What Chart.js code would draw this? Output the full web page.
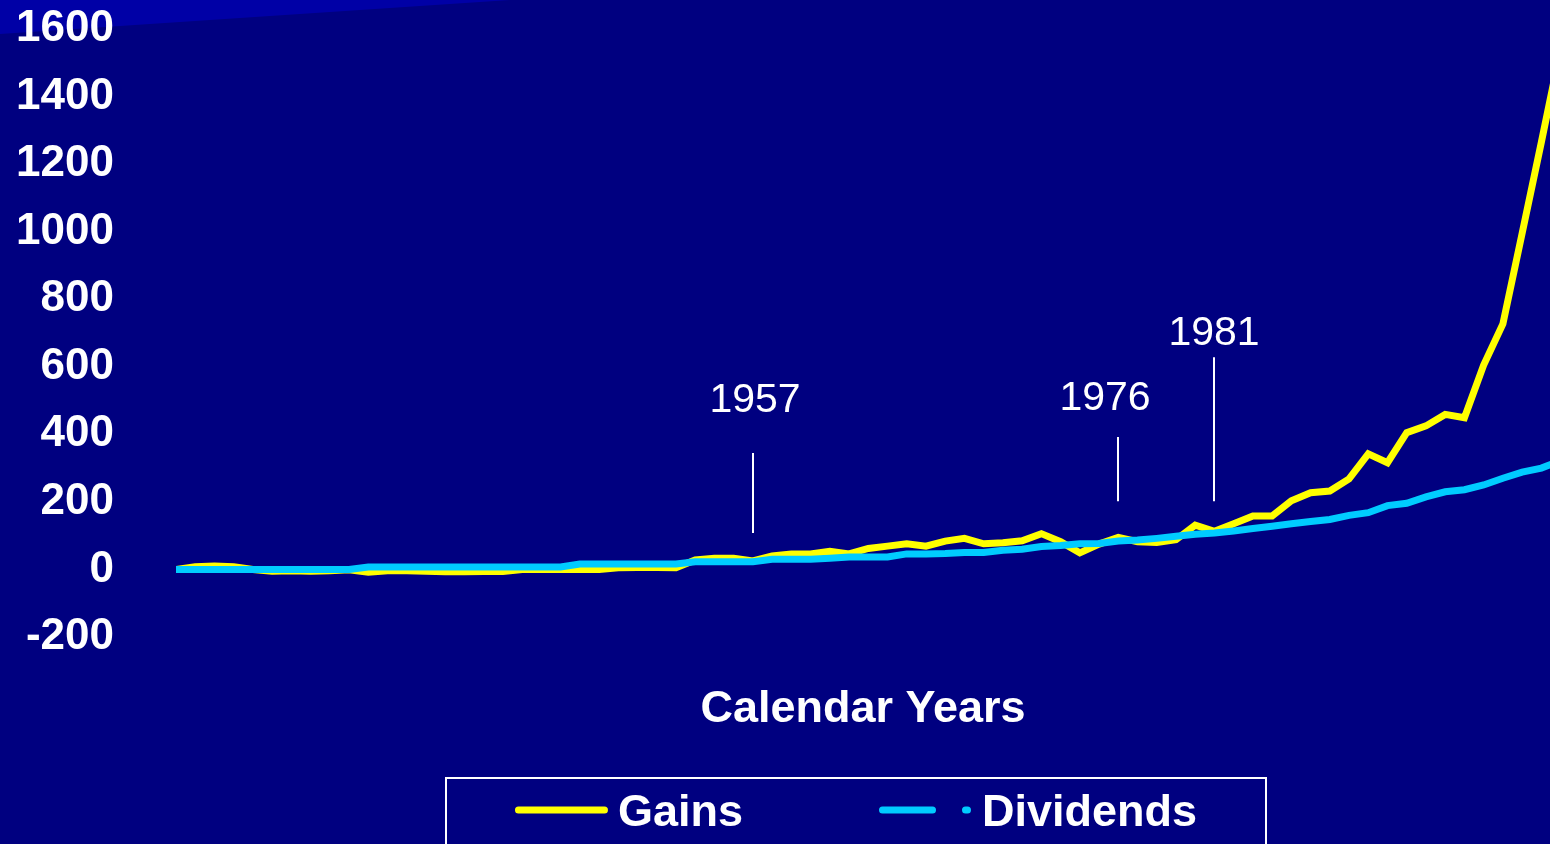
<!DOCTYPE html>
<html>
<head>
<meta charset="utf-8">
<script src="https://cdn.jsdelivr.net/npm/chart.js@4.4.1/dist/chart.umd.min.js"></script>
<style>
  html, body { margin: 0; padding: 0; background: #000080; overflow: hidden; }
  #wrap { width: 1550px; height: 844px; position: relative; }
  canvas { display: block; }
</style>
</head>
<body>
<div id="wrap"><canvas id="c" width="1550" height="844"></canvas></div>
<script>
// ---- data ----
const years = [
  1927,1928,1929,1930,1931,1932,1933,1934,1935,1936,
  1937,1938,1939,1940,1941,1942,1943,1944,1945,1946,
  1947,1948,1949,1950,1951,1952,1953,1954,1955,1956,
  1957,1958,1959,1960,1961,1962,1963,1964,1965,1966,
  1967,1968,1969,1970,1971,1972,1973,1974,1975,1976,
  1977,1978,1979,1980,1981,1982,1983,1984,1985,1986,
  1987,1988,1989,1990,1991,1992,1993,1994,1995,1996,
  1997,1998,1999
];
const gains = [
  0,8,10,8,0,-5,-4,-5,-4,-1,
  -8,-4,-4,-5,-7,-7,-6,-6,0,0,
  0,0,0,5,6,6,5,28,33,33,
  25,40,46,46,54,46,62,69,76,69,
  84,92,76,79,85,106,82,49,75,95,
  82,80,88,131,113,135,158,158,203,227,
  232,268,342,316,405,425,459,449,605,727,
  995,1265,1540
];
const dividends = [
  0,0,0,0,0,0,0,0,0,0,
  7,7,7,7,7,7,7,7,7,7,
  7,16,16,16,16,16,16,23,23,23,
  23,30,30,30,33,37,37,37,46,46,
  47,50,50,57,60,68,71,76,77,84,
  87,92,98,104,108,114,121,128,135,142,
  148,160,168,189,196,215,230,236,250,270,
  288,300,322
];
const yTicks = [-200, 0, 200, 400, 600, 800, 1000, 1200, 1400, 1600];
const markerYears = [1957, 1976, 1981];
const seriesNames = ['Gains', 'Dividends'];
const xTitle = 'Calendar Years';

// ---- plugins ----
const FONT = '"Liberation Sans", Arial, Helvetica, sans-serif';

const bgPlugin = {
  id: 'bg',
  beforeDraw(chart) {
    const c = chart.ctx;
    c.save();
    c.fillStyle = '#000080';
    c.fillRect(0, 0, chart.width, chart.height);
    c.fillStyle = '#0000A6';
    c.beginPath();
    c.moveTo(0, 0);
    c.lineTo(510, 0);
    c.lineTo(0, 34);
    c.closePath();
    c.fill();
    c.restore();
  }
};

const markerPlugin = {
  id: 'markers',
  afterDatasetsDraw(chart, args, opts) {
    const c = chart.ctx;
    const x = chart.scales.x, y = chart.scales.y;
    c.save();
    c.strokeStyle = '#ffffff';
    c.fillStyle = '#ffffff';
    c.lineWidth = 2;
    c.font = '41px ' + FONT;
    c.textAlign = 'center';
    c.textBaseline = 'alphabetic';
    markerYears.forEach((yr, i) => {
      const m = opts.items[i];
      const px = Math.round(x.getPixelForValue(yr));
      c.beginPath();
      c.moveTo(px, y.getPixelForValue(m.top));
      c.lineTo(px, y.getPixelForValue(m.bottom));
      c.stroke();
      c.fillText(String(yr), px + m.dx, y.getPixelForValue(m.label));
    });
    c.restore();
  }
};

const boxLegendPlugin = {
  id: 'boxLegend',
  afterDraw(chart, args, opts) {
    const c = chart.ctx;
    const ds = chart.data.datasets;
    const order = [1, 0]; // Gains, Dividends
    c.save();
    c.font = 'bold 45px ' + FONT;
    const sample = 93, gap = 10, between = 136;
    const widths = order.map(i => sample + gap + c.measureText(ds[i].label).width);
    const total = widths.reduce((a, b) => a + b, 0) + between * (order.length - 1);
    let x = opts.centerX - total / 2;
    const cy = opts.centerY;
    c.strokeStyle = '#ffffff';
    c.lineWidth = 2;
    c.strokeRect(opts.boxLeft, opts.boxTop, opts.boxRight - opts.boxLeft, 100);
    order.forEach((i, k) => {
      const d = ds[i];
      c.save();
      c.strokeStyle = d.borderColor;
      c.lineWidth = d.borderWidth;
      c.lineCap = 'round';
      c.setLineDash(d.legendDash || []);
      c.beginPath();
      c.moveTo(x + 3.5, cy);
      c.lineTo(x + sample - 3.5, cy);
      c.stroke();
      c.restore();
      c.fillStyle = '#ffffff';
      c.textAlign = 'left';
      c.textBaseline = 'alphabetic';
      c.fillText(d.label, x + sample + gap, cy + 16);
      x += widths[k] + between;
    });
    c.restore();
  }
};

// ---- chart ----
new Chart(document.getElementById('c'), {
  type: 'line',
  data: {
    datasets: [
      {
        label: seriesNames[1],
        data: years.map((yr, i) => ({ x: yr, y: dividends[i] })),
        borderColor: '#00CCFF',
        borderWidth: 7,
        pointRadius: 0,
        borderCapStyle: 'round',
        tension: 0,
        order: 0,
        legendDash: [50, 33, 2, 300]
      },
      {
        label: seriesNames[0],
        data: years.map((yr, i) => ({ x: yr, y: gains[i] })),
        borderColor: '#FFFF00',
        borderWidth: 7,
        pointRadius: 0,
        borderCapStyle: 'round',
        tension: 0,
        order: 1
      }
    ]
  },
  options: {
    responsive: false,
    animation: false,
    devicePixelRatio: 1,
    layout: { autoPadding: false, padding: { top: 29, left: 0, right: 0, bottom: 107 } },
    scales: {
      x: {
        type: 'linear',
        min: 1927,
        max: 1998.45,
        grid: { display: false },
        border: { display: false },
        ticks: { display: false },
        title: {
          display: true,
          text: xTitle,
          color: '#ffffff',
          font: { family: FONT, size: 45, weight: 'bold', lineHeight: 1.2 },
          padding: { top: 38, bottom: 0 }
        }
      },
      y: {
        min: -200,
        max: 1600,
        grid: { display: false, drawTicks: false },
        border: { display: false },
        afterBuildTicks: s => { s.ticks = yTicks.map(v => ({ value: v })); },
        afterFit: s => { s.width = 176; s.paddingTop = 0; s.paddingBottom = 0; },
        ticks: {
          color: '#ffffff',
          padding: 62,
          callback: v => String(v),
          font: { family: FONT, size: 44, weight: 'bold' }
        }
      }
    },
    plugins: {
      legend: { display: false },
      tooltip: { enabled: false },
      markers: {
        items: [
          { top: 345, bottom: 108, label: 466, dx: 2 },
          { top: 392, bottom: 202, label: 472, dx: -13 },
          { top: 628, bottom: 202, label: 664, dx: 0 }
        ]
      },
      boxLegend: { centerX: 856, centerY: 810, boxLeft: 446, boxRight: 1266, boxTop: 778 }
    }
  },
  plugins: [bgPlugin, markerPlugin, boxLegendPlugin]
});
</script>
</body>
</html>
